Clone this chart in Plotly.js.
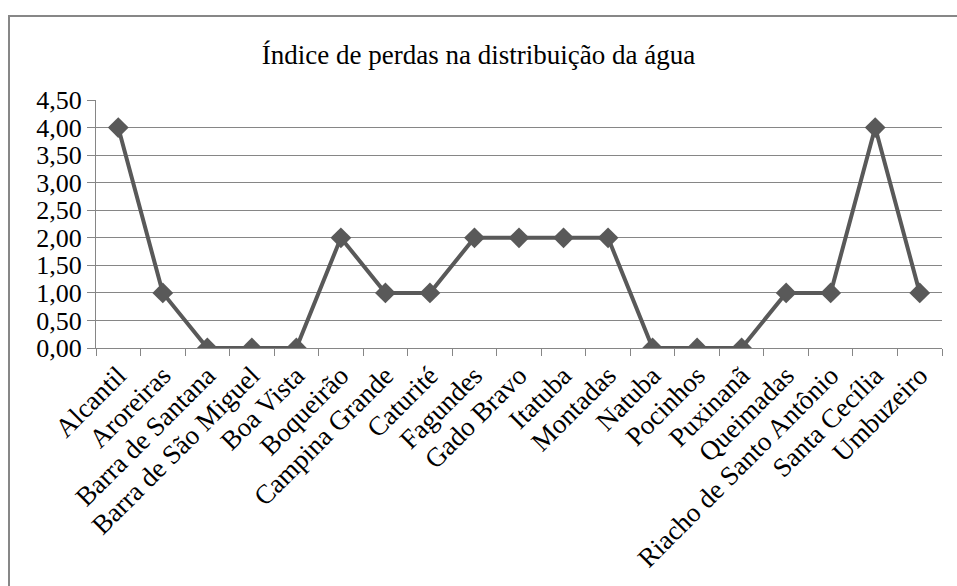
<!DOCTYPE html>
<html>
<head>
<meta charset="utf-8">
<script src="https://cdn.plot.ly/plotly-3.0.1.min.js"></script>
<style>html,body{margin:0;padding:0;background:#fff;}#chart{width:957px;height:586px;}</style>
</head>
<body>
<div id="chart"></div>
<script>
const municipios = ["Alcantil","Aroreiras","Barra de Santana","Barra de São Miguel","Boa Vista","Boqueirão","Campina Grande","Caturité","Fagundes","Gado Bravo","Itatuba","Montadas","Natuba","Pocinhos","Puxinanã","Queimadas","Riacho de Santo Antônio","Santa Cecília","Umbuzeiro"];
const indicePerdas = [4,1,0,0,0,2,1,1,2,2,2,2,0,0,0,1,1,4,1];
const yTicks = [0,0.5,1,1.5,2,2.5,3,3.5,4,4.5];
const titulo = "Índice de perdas na distribuição da água";

const W = 957, H = 586;
const m = {l: 96, r: 15, t: 100, b: 238};
const pw = W - m.l - m.r, ph = H - m.t - m.b;
const px = v => (v - m.l) / pw;
const py = v => 1 - (v - m.t) / ph;

const font = "Liberation Serif";

Plotly.newPlot("chart", [{
  x: municipios,
  y: indicePerdas,
  type: "scatter",
  mode: "lines+markers",
  line: {color: "#595959", width: 4},
  marker: {symbol: "diamond", size: 16, color: "#595959"},
  hoverinfo: "x+y"
}], {
  width: W, height: H,
  margin: m,
  separators: ",.",
  font: {family: font, size: 24, color: "#000"},
  paper_bgcolor: "#fff",
  plot_bgcolor: "#fff",
  showlegend: false,
  title: {text: titulo, font: {family: "serif", size: 27, color: "#000"}, x: 0.5, xanchor: "center", y: 1 - 55/H, yanchor: "middle"},
  xaxis: {
    type: "category",
    tickangle: -45,
    tickfont: {family: font, size: 27, color: "#000"},
    showgrid: false,
    showline: true, linecolor: "#868686", linewidth: 1,
    ticks: "outside", tickson: "boundaries", ticklen: 7, tickcolor: "#868686",
    range: [-0.5, municipios.length - 0.5],
    zeroline: false
  },
  yaxis: {
    range: [0, 4.5],
    tickvals: yTicks,
    tickformat: ".2f",
    tickfont: {family: font, size: 26, color: "#000"},
    showgrid: true, gridcolor: "#868686", gridwidth: 1,
    showline: true, linecolor: "#868686", linewidth: 1,
    ticks: "outside", ticklen: 8, tickcolor: "#868686",
    zeroline: false
  },
  shapes: [{
    type: "rect", xref: "paper", yref: "paper",
    x0: px(9), x1: px(W + 20), y0: py(H + 20), y1: py(16),
    line: {color: "#878787", width: 2}, fillcolor: "rgba(0,0,0,0)", layer: "below"
  }]
}, {displayModeBar: false, staticPlot: true});
</script>
</body>
</html>
